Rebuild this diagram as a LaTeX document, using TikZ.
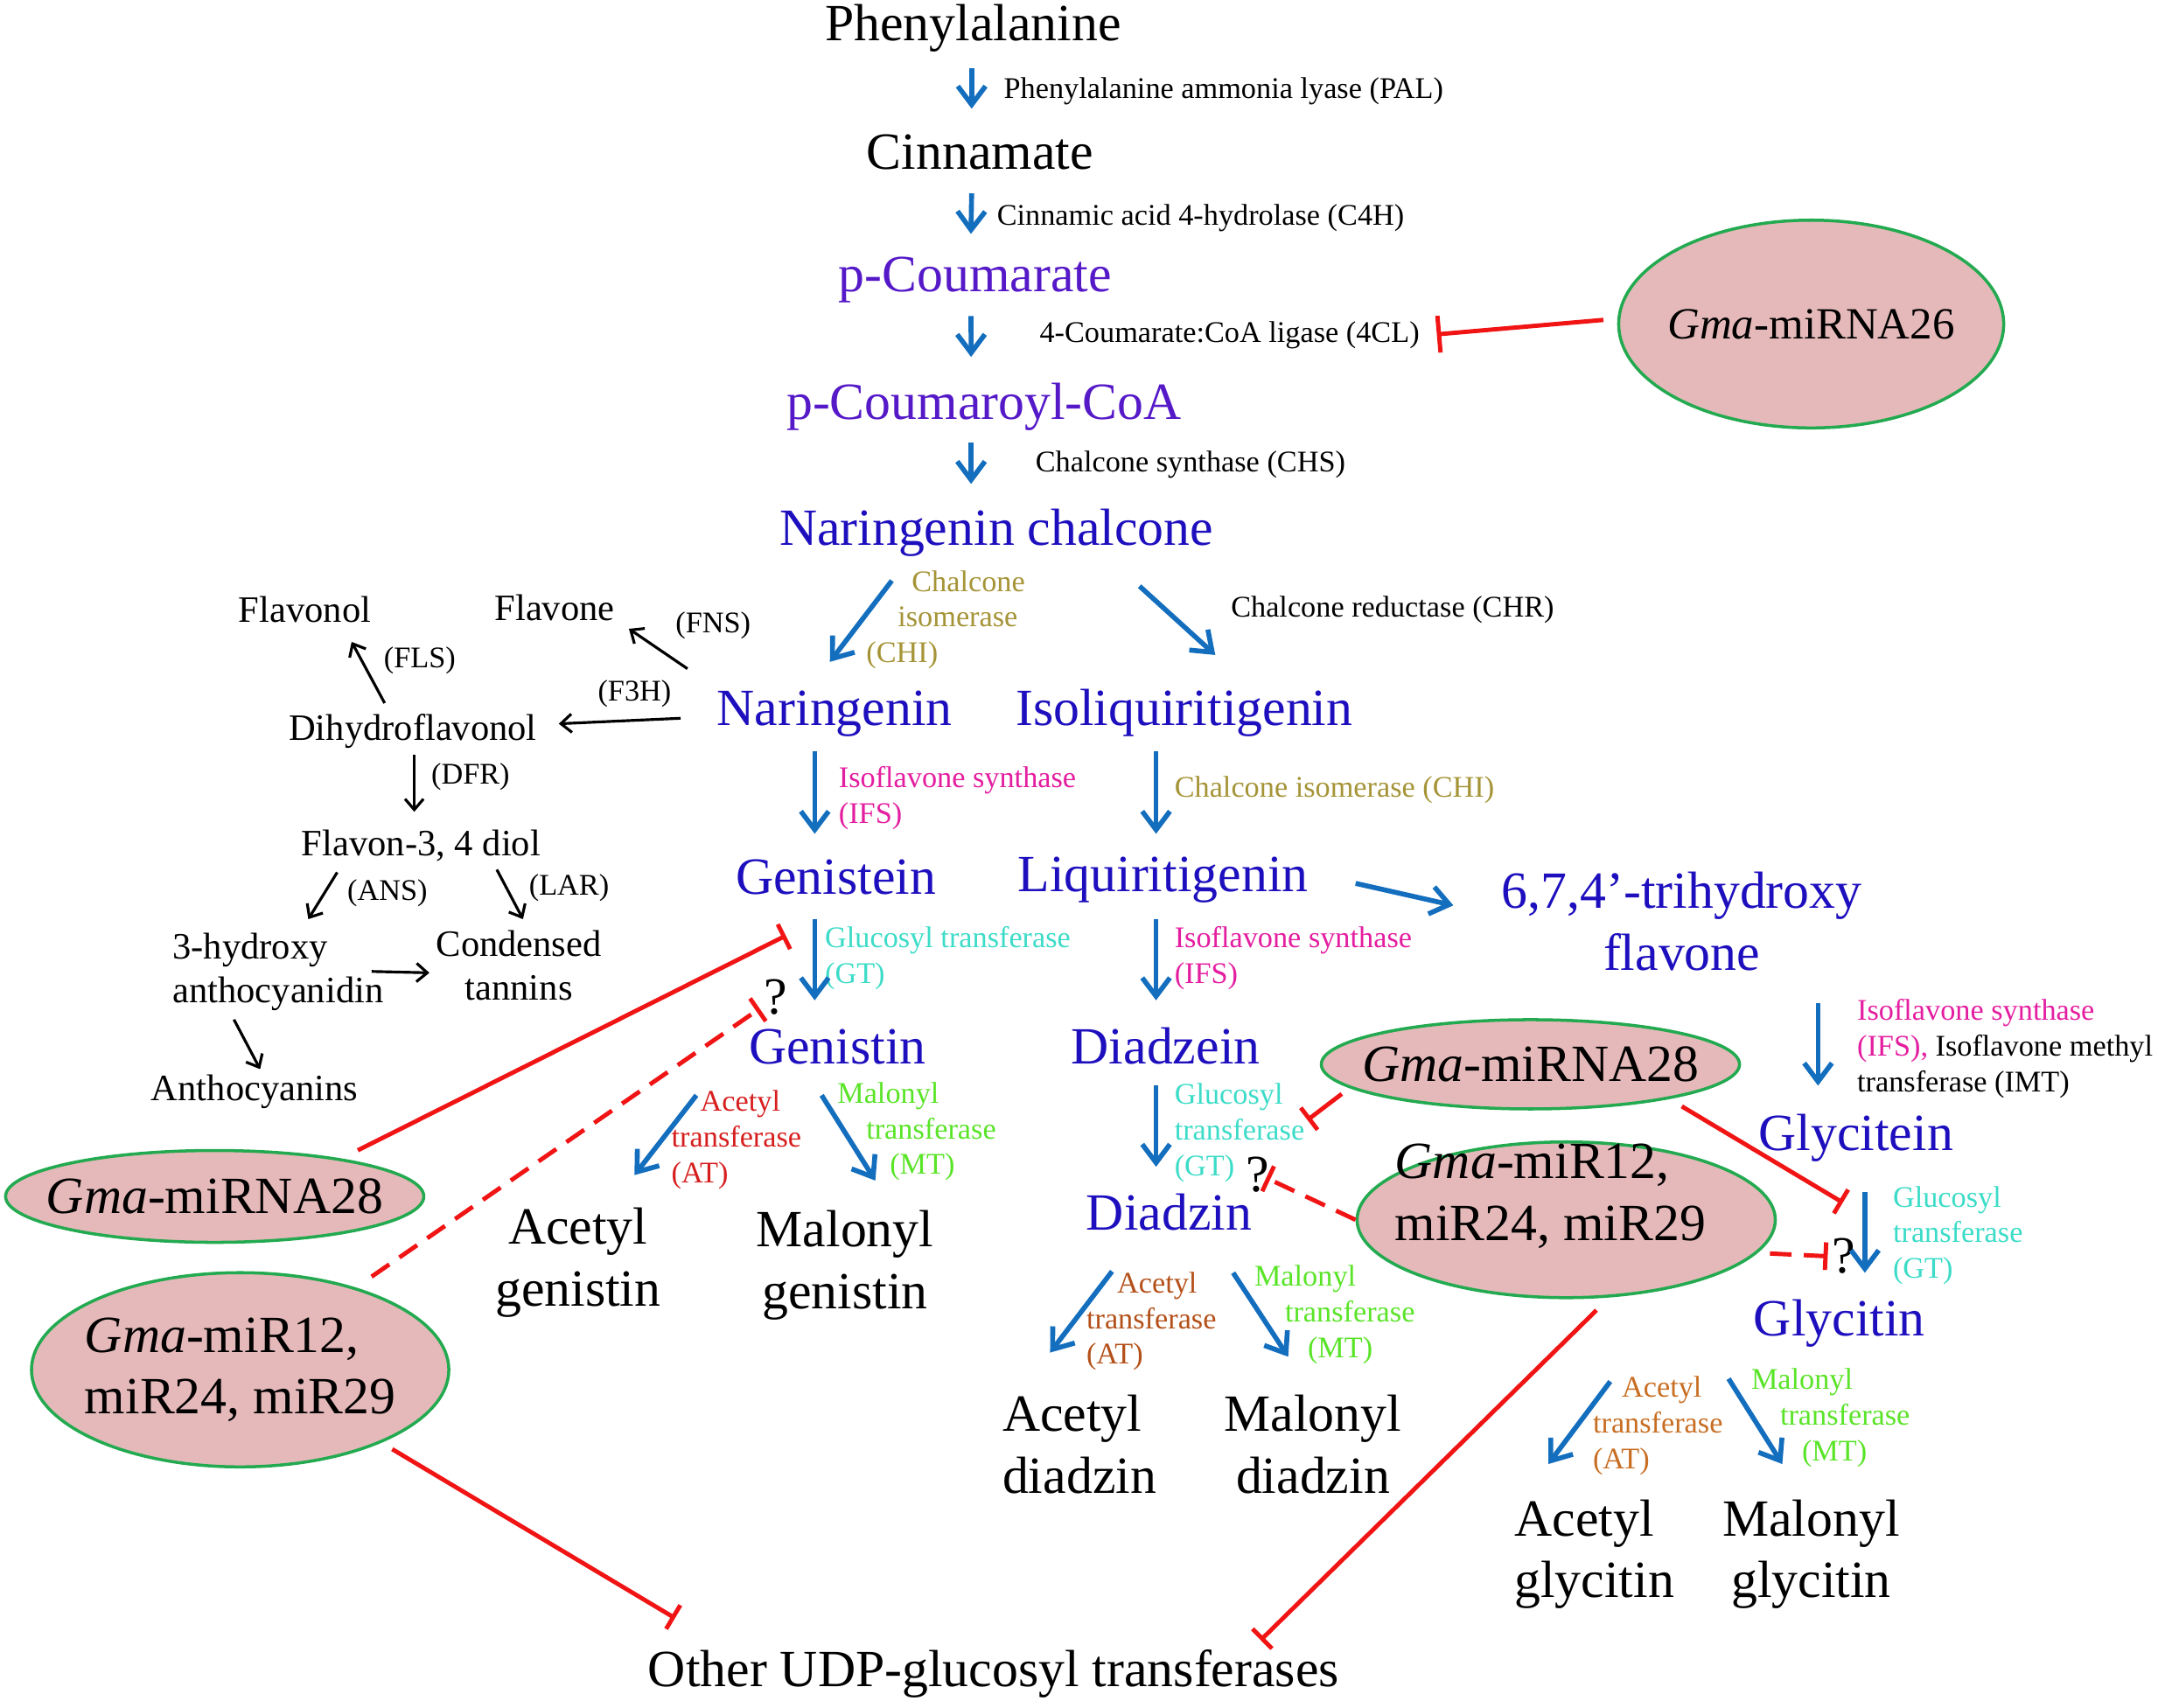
\documentclass[tikz,border=0pt]{standalone}
\usepackage{fontspec}
\setmainfont{Liberation Serif}
\usetikzlibrary{arrows.meta, shapes.geometric, calc}
\definecolor{arrblue}{RGB}{20,110,190}
\definecolor{cmpblue}{RGB}{30,15,190}
\definecolor{cmpviolet}{RGB}{85,25,200}
\definecolor{chiolive}{RGB}{165,148,55}
\definecolor{ifsmag}{RGB}{228,30,160}
\definecolor{gtcyan}{RGB}{60,220,200}
\definecolor{atred}{RGB}{215,30,30}
\definecolor{atbrown}{RGB}{180,80,25}
\definecolor{atorange}{RGB}{200,110,35}
\definecolor{mtgreen}{RGB}{90,228,40}
\definecolor{inhred}{RGB}{240,20,20}
\definecolor{mirfill}{RGB}{229,185,185}
\definecolor{mirline}{RGB}{35,170,80}

\begin{document}
\begin{tikzpicture}[x=0.1573mm, y=-0.1573mm,
    cmp/.style={font=\fontsize{17}{20}\selectfont, text=cmpblue, inner sep=0pt, anchor=base, align=center},
    prod/.style={cmp, text=black},
    side/.style={font=\fontsize{12.1}{14.3}\selectfont, inner sep=0pt, anchor=base, align=center},
    enz/.style={font=\fontsize{9.75}{11.6}\selectfont, inner sep=0pt, anchor=base west, align=left},
    mir/.style={ellipse, draw=mirline, line width=1pt, fill=mirfill, inner xsep=-4mm, inner ysep=-1mm,
      font=\fontsize{17}{20}\selectfont, align=left},
    flow/.style={draw=arrblue, line width=1.6pt, -{Straight Barb[length=6pt,width=9pt]}},
    sidearr/.style={draw=black, line width=0.9pt, -{Straight Barb[length=3.5pt,width=6pt]}},
    inhib/.style={draw=inhred, line width=1.4pt, -{Bar[width=9pt]}},
    maybe/.style={inhib, dash pattern=on 7pt off 4pt}]

  \path[fill=white, use as bounding box] (0,0) rectangle (1568,1241);

  % main pathway
  \node[prod] (phe) at (707,29.7) {Phenylalanine};
  \node[prod] (cin) at (712,123) {Cinnamate};
  \node[cmp, text=cmpviolet] (pcou) at (708.5,212) {p-Coumarate};
  \node[cmp, text=cmpviolet] (pcoa) at (715,305) {p-Coumaroyl-CoA};
  \node[cmp] (nchal) at (724,396) {Naringenin chalcone};
  \node[cmp] (nar) at (606.5,527) {Naringenin};
  \node[cmp] (isoliq) at (860.5,527) {Isoliquiritigenin};
  \node[cmp] (geni) at (607.5,650) {Genistein};
  \node[cmp] (liq) at (845,648) {Liquiritigenin};
  \node[cmp] (tri) at (1222,705) {6,7,4’-trihydroxy\\flavone};
  \node[cmp] (genin) at (608.5,773) {Genistin};
  \node[cmp] (dzein) at (847,773) {Diadzein};
  \node[cmp] (dzin) at (849.5,894) {Diadzin};
  \node[cmp] (glyein) at (1348.5,836) {Glycitein};
  \node[cmp] (glyin) at (1336.5,971) {Glycitin};
  \node[prod] (acgen) at (420,949) {Acetyl\\genistin};
  \node[prod] (malgen) at (614,951) {Malonyl\\genistin};
  \node[prod, anchor=base west, align=left] (acdia) at (728,1085) {Acetyl\\diadzin};
  \node[prod] (maldia) at (954,1085) {Malonyl\\diadzin};
  \node[prod, anchor=base west, align=left] (acgly) at (1100,1161) {Acetyl\\glycitin};
  \node[prod] (malgly) at (1316,1161) {Malonyl\\glycitin};
  \node[prod] (udp) at (722,1226) {Other UDP-glucosyl transferases};
  \node[prod] (q1) at (563.5,737) {?};
  \node[prod] (q2) at (914,866) {?};
  \node[prod] (q3) at (1339.5,925) {?};

  % side branch
  \node[side] (flol) at (221.5,452) {Flavonol};
  \node[side] (flone) at (403,451) {Flavone};
  \node[side] (dhf) at (300,538) {Dihydroflavonol};
  \node[side] (diol) at (306,622) {Flavon-3, 4 diol};
  \node[side, anchor=base west, align=left] (ant) at (125,729) {3-hydroxy\\anthocyanidin};
  \node[side] (tan) at (377,727) {Condensed\\tannins};
  \node[side] (anc) at (185,800) {Anthocyanins};

  % miRNAs
  \node[mir, minimum width=44mm, minimum height=23.75mm, font=\fontsize{14.5}{17}\selectfont] (mir26) at (1316,235.5) {\textit{Gma}-miRNA26};
  \node[mir, minimum width=47.8mm, minimum height=10.5mm] (mir28a) at (156,869.5) {\textit{Gma}-miRNA28};
  \node[mir, minimum width=47.8mm, minimum height=10.2mm] (mir28b) at (1112,773.5) {\textit{Gma}-miRNA28};
  \node[mir, minimum width=47.7mm, minimum height=22.2mm] (mir12a) at (174.5,995.5) {\textit{Gma}-miR12,\\miR24, miR29};
  \node[mir, minimum width=47.8mm, minimum height=17.8mm,
    label={[font=\fontsize{17}{20}\selectfont, align=left, inner sep=0pt, xshift=-1.8mm, yshift=2.7mm]center:{\textit{Gma}-miR12,\\miR24, miR29}}] (mir12b) at (1138,886.5) {};

  % enzymes
  \node[enz] (ePAL) at (729,71.5) {Phenylalanine ammonia lyase (PAL)};
  \node[enz] (eC4H) at (724,163.5) {Cinnamic acid 4-hydrolase (C4H)};
  \node[enz] (e4CL) at (755,249) {4-Coumarate:CoA ligase (4CL)};
  \node[enz] (eCHS) at (752,343) {Chalcone synthase (CHS)};
  \node[enz, text=chiolive] (eCHI) at (629,481.5) {\hspace*{5.2mm}Chalcone\\\hspace*{3.6mm}isomerase\\(CHI)};
  \node[enz] (eCHR) at (894,448.5) {Chalcone reductase (CHR)};
  \node[enz, text=ifsmag] (eIFS1) at (609,598.5) {Isoflavone synthase\\(IFS)};
  \node[enz, text=chiolive] (eCHI2) at (853,579.5) {Chalcone isomerase (CHI)};
  \node[enz, text=gtcyan] (eGT1) at (599,714.5) {Glucosyl transferase\\(GT)};
  \node[enz, text=ifsmag] (eIFS2) at (853,714.5) {Isoflavone synthase\\(IFS)};
  \node[enz, text=gtcyan] (eGT2) at (853,854.5) {Glucosyl\\transferase\\(GT)};
  \node[enz, text=ifsmag] (eIMT) at (1349,793.5) {Isoflavone synthase\\(IFS), \textcolor{black}{Isoflavone methyl}\\\textcolor{black}{transferase (IMT)}};
  \node[enz, text=gtcyan] (eGT3) at (1375,929) {Glucosyl\\transferase\\(GT)};
  \node[enz, text=atred] (eAT1) at (487.5,859.5) {\hspace*{3.3mm}Acetyl\\transferase\\(AT)};
  \node[enz, text=mtgreen] (eMT1) at (608,853.5) {Malonyl\\\hspace*{3.3mm}transferase\\\hspace*{6mm}(MT)};
  \node[enz, text=atbrown] (eAT2) at (789,991.5) {\hspace*{3.5mm}Acetyl\\transferase\\(AT)};
  \node[enz, text=mtgreen] (eMT2) at (911,986.5) {Malonyl\\\hspace*{3.5mm}transferase\\\hspace*{6.1mm}(MT)};
  \node[enz, text=atorange] (eAT3) at (1157,1067.5) {\hspace*{3.3mm}Acetyl\\transferase\\(AT)};
  \node[enz, text=mtgreen] (eMT3) at (1272,1061.5) {Malonyl\\\hspace*{3.3mm}transferase\\\hspace*{5.8mm}(MT)};
  \node[enz] (eFNS) at (490.5,460) {(FNS)};
  \node[enz] (eFLS) at (278.5,485.5) {(FLS)};
  \node[enz] (eF3H) at (434,509.5) {(F3H)};
  \node[enz] (eDFR) at (313,569.5) {(DFR)};
  \node[enz] (eANS) at (252,654.5) {(ANS)};
  \node[enz] (eLAR) at (384,650.5) {(LAR)};

  \coordinate (x4cl) at (1044,243);
  \coordinate (xgt1) at (571,680);
  \coordinate (xgt1q) at (552,733);
  \coordinate (xgt2) at (950,814);
  \coordinate (xgt2q) at (920,856);
  \coordinate (xgt3) at (1339,874);
  \coordinate (xgt3q) at (1328,913);

  \draw[flow] ($(phe.base)+(-1,20)$) -- ($(cin.base)+(-6,-44)$);
  \draw[flow] ($(cin.base)+(-6,17.5)$) -- ($(pcou.base)+(-3,-42)$);
  \draw[flow] ($(pcou.base)+(-3,17.7)$) -- ($(pcoa.base)+(-9.4,-45.6)$);
  \draw[flow] ($(pcoa.base)+(-9.4,16.6)$) -- ($(nchal.base)+(-18.4,-44.3)$);
  \draw[flow] ($(nchal.base)+(-76,26)$) -- ($(nar.base)+(-3.5,-46)$);
  \draw[flow] ($(nchal.base)+(104,30)$) -- ($(isoliq.base)+(22.5,-51)$);
  \draw[flow] ($(nar.base)+(-14.5,19)$) -- ($(geni.base)+(-15.5,-44)$);
  \draw[flow] ($(isoliq.base)+(-20.5,19)$) -- ($(liq.base)+(-5,-42)$);
  \draw[flow] ($(geni.base)+(-15.5,18)$) -- ($(genin.base)+(-16.5,-46)$);
  \draw[flow] ($(liq.base)+(-5,20)$) -- ($(dzein.base)+(-7,-46)$);
  \draw[flow] ($(liq.base)+(140,-6)$) -- ($(tri.base)+(-166,-47)$);
  \draw[flow] ($(dzein.base)+(-7,16)$) -- ($(dzin.base)+(-9.5,-46)$);
  \draw[flow] ($(tri.base)+(99,24)$) -- ($(glyein.base)+(-27.5,-47)$);
  \draw[flow] ($(glyein.base)+(6.5,30)$) -- ($(glyin.base)+(18.5,-46)$);
  \draw[flow] ($(genin.base)+(-102.5,23)$) -- ($(acgen.base)+(41,-95)$);
  \draw[flow] ($(genin.base)+(-11.5,23)$) -- ($(malgen.base)+(22,-93)$);
  \draw[flow] ($(dzin.base)+(-41.5,30)$) -- ($(acdia.base west)+(35,-102)$);
  \draw[flow] ($(dzin.base)+(46.5,31)$) -- ($(maldia.base)+(-18,-99)$);
  \draw[flow] ($(glyin.base)+(-166.5,33)$) -- ($(acgly.base west)+(25,-97)$);
  \draw[flow] ($(glyin.base)+(-80.5,31)$) -- ($(malgly.base)+(-21,-97)$);

  \draw[sidearr] ($(nar.base)+(-107,-41)$) -- ($(flone.base)+(54,6)$);
  \draw[sidearr] ($(nar.base)+(-112,-5)$) -- ($(dhf.base)+(106,-12)$);
  \draw[sidearr] ($(dhf.base)+(-20.5,-27)$) -- ($(flol.base)+(34,14.5)$);
  \draw[sidearr] ($(dhf.base)+(1,10.5)$) -- ($(diol.base)+(-5,-32)$);
  \draw[sidearr] ($(diol.base)+(-61,12)$) -- ($(ant.base west)+(99,-61)$);
  \draw[sidearr] ($(diol.base)+(55,10)$) -- ($(tan.base)+(3,-59)$);
  \draw[sidearr] ($(ant.base west)+(145,-23)$) -- ($(tan.base)+(-65,-20)$);
  \draw[sidearr] ($(ant.base west)+(45,12)$) -- ($(anc.base)+(4,-23)$);

  \draw[inhib, -{Bar[width=12pt]}] ($(mir26.west)+(-10,-3)$) -- (x4cl);
  \draw[inhib] ($(mir28a.north)+(104,1)$) -- (xgt1);
  \draw[maybe] ($(mir12a.north)+(95.5,4)$) -- (xgt1q);
  \draw[inhib] ($(mir28b.west)+(16,21.5)$) -- (xgt2);
  \draw[maybe] (mir12b.west) -- (xgt2q);
  \draw[inhib] ($(mir28b.south)+(110,-3)$) -- (xgt3);
  \draw[maybe] ($(mir12b.east)+(-5,24.5)$) -- (xgt3q);
  \draw[inhib] ($(mir12a.south)+(110.5,-14)$) -- ($(udp.base west)+(20,-50)$);
  \draw[inhib] ($(mir12b.south)+(22,8)$) -- ($(udp.base)+(194,-34)$);
\end{tikzpicture}
\end{document}
